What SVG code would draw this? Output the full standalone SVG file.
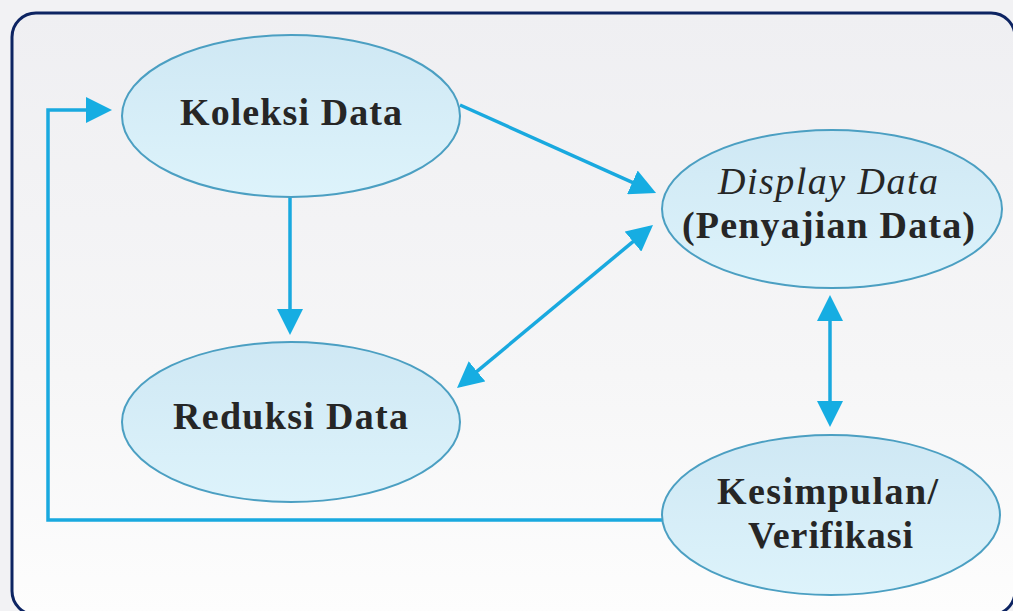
<svg xmlns="http://www.w3.org/2000/svg" width="1013" height="611" viewBox="0 0 1013 611">
  <defs>
    <linearGradient id="paper" x1="0" y1="0" x2="0" y2="1">
      <stop offset="0" stop-color="#efeff2"/>
      <stop offset="0.6" stop-color="#f6f6f7"/>
      <stop offset="1" stop-color="#fdfdfd"/>
    </linearGradient>
    <linearGradient id="bubble" x1="0" y1="0" x2="0" y2="1">
      <stop offset="0" stop-color="#cfe8f4"/>
      <stop offset="1" stop-color="#ddf3fb"/>
    </linearGradient>
    <marker id="head" viewBox="0 0 26 26" refX="22" refY="13" markerWidth="26" markerHeight="26" markerUnits="userSpaceOnUse" orient="auto-start-reverse">
      <path d="M0,0 L26,13 L0,26 Z" fill="#16ade2"/>
    </marker>
    <style>
      .node ellipse { fill: url(#bubble); stroke: #4b9fc2; stroke-width: 2; }
      .label { font-family: "Liberation Serif", "Times New Roman", serif; font-size: 38px; font-weight: bold; fill: #262626; text-anchor: middle; }
      .label.it { font-style: italic; font-weight: normal; }
      .link { fill: none; stroke: #19a9df; stroke-width: 3.5; }
    </style>
  </defs>

  <!-- page and frame -->
  <rect x="0" y="0" width="1013" height="611" fill="#f2f2f4"/>
  <rect x="12" y="13" width="1003" height="602" rx="24" ry="24" fill="url(#paper)" stroke="#0d2462" stroke-width="3"/>

  <!-- connectors -->
  <g id="connectors">
    <path class="link" d="M662,520 H48 V110 H108" marker-end="url(#head)"/>
    <path class="link" d="M290,197 V331" marker-end="url(#head)"/>
    <path class="link" d="M460,105 L652.4,191.4" marker-end="url(#head)"/>
    <path class="link" d="M460.1,385.4 L649.9,227.6" marker-start="url(#head)" marker-end="url(#head)"/>
    <path class="link" d="M830,299 V423" marker-start="url(#head)" marker-end="url(#head)"/>
  </g>

  <!-- nodes -->
  <g id="koleksi" class="node">
    <ellipse cx="291" cy="116" rx="169" ry="81"/>
    <text class="label" x="291" y="125" textLength="222" lengthAdjust="spacing">Koleksi Data</text>
  </g>
  <g id="reduksi" class="node">
    <ellipse cx="291" cy="422" rx="169" ry="80"/>
    <text class="label" x="290.5" y="429" textLength="235" lengthAdjust="spacing">Reduksi Data</text>
  </g>
  <g id="display" class="node">
    <ellipse cx="832" cy="209" rx="170" ry="79"/>
    <text class="label it" x="828" y="194" textLength="220" lengthAdjust="spacing">Display Data</text>
    <text class="label" x="828.5" y="238" textLength="293" lengthAdjust="spacing">(Penyajian Data)</text>
  </g>
  <g id="kesimpulan" class="node">
    <ellipse cx="831" cy="515" rx="169" ry="80"/>
    <text class="label" x="827.5" y="504" textLength="221" lengthAdjust="spacing">Kesimpulan/</text>
    <text class="label" x="830.5" y="548" textLength="165" lengthAdjust="spacing">Verifikasi</text>
  </g>
</svg>
